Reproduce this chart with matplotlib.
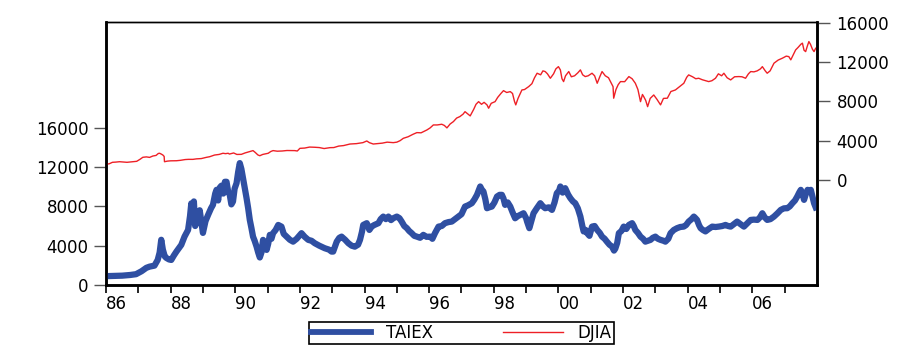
import matplotlib
matplotlib.use('Agg')
import matplotlib.pyplot as plt
from matplotlib.lines import Line2D

# TAIEX (left axis) as (decimal year, index level)
taiex_t = [1986.00, 1986.25, 1986.50, 1986.75, 1986.93, 1987.10, 1987.25, 1987.35, 1987.50, 1987.60,
           1987.66, 1987.71, 1987.76, 1987.82, 1987.87, 1987.95, 1988.02, 1988.10, 1988.18, 1988.33,
           1988.43, 1988.54, 1988.60, 1988.64, 1988.68, 1988.72, 1988.76, 1988.80, 1988.85, 1988.90,
           1988.96, 1989.00, 1989.08, 1989.16, 1989.25, 1989.31, 1989.38, 1989.42, 1989.47, 1989.52,
           1989.57, 1989.63, 1989.68, 1989.73, 1989.78, 1989.83, 1989.88, 1989.93, 1989.98, 1990.04,
           1990.09, 1990.14, 1990.19, 1990.24, 1990.30, 1990.35, 1990.40, 1990.45, 1990.50, 1990.55,
           1990.60, 1990.66, 1990.71, 1990.76, 1990.81, 1990.86, 1990.91, 1990.97, 1991.02, 1991.07,
           1991.12, 1991.17, 1991.25, 1991.33, 1991.43, 1991.50, 1991.59, 1991.69, 1991.79, 1991.90,
           1992.05, 1992.15, 1992.26, 1992.36, 1992.46, 1992.60, 1992.77, 1992.90, 1992.98, 1993.03,
           1993.14, 1993.22, 1993.29, 1993.40, 1993.50, 1993.60, 1993.70, 1993.80, 1993.86, 1993.92,
           1993.96, 1994.07, 1994.15, 1994.22, 1994.30, 1994.43, 1994.50, 1994.58, 1994.66, 1994.74,
           1994.82, 1994.89, 1995.00, 1995.08, 1995.15, 1995.23, 1995.31, 1995.38, 1995.46, 1995.54,
           1995.62, 1995.72, 1995.82, 1995.92, 1996.03, 1996.10, 1996.18, 1996.29, 1996.39, 1996.49,
           1996.60, 1996.70, 1996.80, 1996.90, 1997.00, 1997.11, 1997.20, 1997.32, 1997.40, 1997.48,
           1997.53, 1997.58, 1997.63, 1997.68, 1997.74, 1997.79, 1997.86, 1997.94, 1998.02, 1998.10,
           1998.18, 1998.25, 1998.30, 1998.35, 1998.43, 1998.51, 1998.58, 1998.66, 1998.74, 1998.82,
           1998.92, 1999.00, 1999.03, 1999.10, 1999.17, 1999.23, 1999.33, 1999.44, 1999.52, 1999.59,
           1999.70, 1999.80, 1999.88, 1999.95, 2000.02, 2000.06, 2000.13, 2000.21, 2000.30, 2000.37,
           2000.45, 2000.52, 2000.60, 2000.68, 2000.74, 2000.78, 2000.84, 2000.89, 2000.96, 2001.04,
           2001.12, 2001.20, 2001.28, 2001.35, 2001.43, 2001.50, 2001.58, 2001.66, 2001.72, 2001.76,
           2001.82, 2001.87, 2001.95, 2002.02, 2002.10, 2002.18, 2002.28, 2002.33, 2002.38, 2002.46,
           2002.54, 2002.62, 2002.69, 2002.77, 2002.85, 2002.92, 2003.00, 2003.08, 2003.16, 2003.25,
           2003.31, 2003.40, 2003.47, 2003.57, 2003.67, 2003.77, 2003.88, 2003.95, 2004.03, 2004.12,
           2004.19, 2004.24, 2004.29, 2004.35, 2004.40, 2004.47, 2004.55, 2004.65, 2004.76, 2004.86,
           2004.96, 2005.07, 2005.17, 2005.25, 2005.33, 2005.43, 2005.53, 2005.63, 2005.74, 2005.85,
           2005.95, 2006.05, 2006.16, 2006.24, 2006.31, 2006.38, 2006.46, 2006.56, 2006.67, 2006.78,
           2006.88, 2006.98, 2007.08, 2007.16, 2007.24, 2007.32, 2007.39, 2007.45, 2007.50, 2007.55,
           2007.60, 2007.66, 2007.71, 2007.76, 2007.81, 2007.86, 2007.91, 2007.96]
taiex_v = [900, 920, 950, 1020, 1100, 1400, 1750, 1870, 1970, 2550,
           3300, 4600, 3600, 2900, 2750, 2600, 2550, 3000, 3400, 4080,
           4920, 5600, 7000, 8300, 7000, 8500, 6000, 7000, 6300, 7600,
           6200, 5300, 6500, 7130, 7800, 8150, 9300, 9680, 8600, 9900,
           10100, 9300, 10500, 10500, 9500, 9170, 8200, 8490, 9800, 10360,
           11500, 12400, 11800, 10870, 9800, 8830, 7800, 6620, 5800, 4920,
           4500, 3900, 3300, 2800, 3300, 4590, 4300, 3570, 4200, 5100,
           4700, 5270, 5600, 6110, 5940, 5200, 4920, 4600, 4410, 4700,
           5270, 4900, 4590, 4500, 4250, 4000, 3740, 3600, 3400, 3400,
           4410, 4800, 4920, 4600, 4250, 4000, 3900, 4100, 4590, 5400,
           6110, 6290, 5600, 5940, 6100, 6290, 6700, 6960, 6700, 6960,
           6600, 6790, 6960, 6800, 6450, 6000, 5780, 5500, 5270, 5000,
           4920, 4800, 5100, 4900, 4920, 4700, 5270, 5940, 6000, 6290,
           6400, 6450, 6700, 6960, 7200, 7980, 8100, 8320, 8700, 9170,
           9600, 10020, 9700, 9510, 8700, 7810, 7900, 7980, 8400, 9000,
           9170, 9170, 8800, 8150, 8400, 7980, 7400, 6790, 7000, 7130,
           7300, 6800, 6450, 5780, 6600, 7300, 7800, 8320, 8000, 7810,
           7900, 7640, 8400, 9340, 9600, 10020, 9400, 9850, 9200, 8830,
           8500, 8320, 7800, 6960, 6000, 5450, 5600, 5270, 5000, 5940,
           6000, 5600, 5300, 4920, 4700, 4410, 4100, 3900, 3500, 3700,
           4300, 5270, 5500, 5940, 5700, 6110, 6290, 6000, 5600, 5300,
           4920, 4700, 4410, 4500, 4590, 4800, 4920, 4700, 4590, 4500,
           4410, 4700, 5270, 5600, 5780, 5900, 5940, 6100, 6450, 6700,
           6960, 6800, 6620, 6100, 5780, 5600, 5450, 5700, 5940, 5900,
           5940, 6000, 6110, 6000, 5940, 6200, 6450, 6200, 5940, 6300,
           6620, 6650, 6620, 6900, 7300, 6900, 6620, 6700, 6960, 7300,
           7640, 7800, 7810, 8000, 8320, 8600, 9000, 9400, 9680, 9300,
           8660, 9300, 9680, 9500, 9680, 9000, 8320, 7900]

# DJIA (right axis)
djia_t = [1986.00, 1986.10, 1986.20, 1986.30, 1986.42, 1986.55, 1986.65, 1986.75, 1986.83, 1986.95,
          1987.05, 1987.14, 1987.25, 1987.35, 1987.45, 1987.55, 1987.62, 1987.66, 1987.72, 1987.76,
          1987.80, 1987.81, 1987.90, 1988.00, 1988.18, 1988.30, 1988.45, 1988.55, 1988.69, 1988.80,
          1988.95, 1989.10, 1989.21, 1989.36, 1989.50, 1989.62, 1989.70, 1989.78, 1989.82, 1989.95,
          1990.05, 1990.19, 1990.30, 1990.45, 1990.55, 1990.62, 1990.70, 1990.76, 1990.85, 1991.02,
          1991.10, 1991.17, 1991.30, 1991.45, 1991.60, 1991.75, 1991.84, 1991.92, 1992.00, 1992.15,
          1992.30, 1992.46, 1992.60, 1992.75, 1992.93, 1993.05, 1993.20, 1993.35, 1993.55, 1993.75,
          1993.95, 1994.07, 1994.15, 1994.27, 1994.40, 1994.55, 1994.70, 1994.89, 1995.00, 1995.10,
          1995.20, 1995.35, 1995.50, 1995.62, 1995.75, 1995.93, 1996.03, 1996.13, 1996.25, 1996.39,
          1996.47, 1996.55, 1996.65, 1996.75, 1996.85, 1996.95, 1997.05, 1997.11, 1997.20, 1997.27,
          1997.38, 1997.45, 1997.53, 1997.62, 1997.70, 1997.79, 1997.84, 1997.92, 1998.04, 1998.12,
          1998.22, 1998.30, 1998.40, 1998.51, 1998.58, 1998.64, 1998.68, 1998.75, 1998.87, 1998.95,
          1999.08, 1999.18, 1999.26, 1999.34, 1999.45, 1999.52, 1999.59, 1999.66, 1999.75, 1999.85,
          1999.92, 2000.00, 2000.06, 2000.11, 2000.16, 2000.22, 2000.32, 2000.40, 2000.50, 2000.60,
          2000.68, 2000.75, 2000.83, 2000.92, 2001.04, 2001.12, 2001.20, 2001.28, 2001.35, 2001.45,
          2001.55, 2001.61, 2001.69, 2001.71, 2001.78, 2001.85, 2001.92, 2002.05, 2002.18, 2002.28,
          2002.38, 2002.46, 2002.54, 2002.60, 2002.64, 2002.70, 2002.76, 2002.84, 2002.95, 2003.05,
          2003.16, 2003.25, 2003.37, 2003.48, 2003.62, 2003.75, 2003.88, 2003.97, 2004.03, 2004.15,
          2004.25, 2004.34, 2004.45, 2004.55, 2004.65, 2004.75, 2004.86, 2004.95, 2005.05, 2005.12,
          2005.22, 2005.33, 2005.45, 2005.58, 2005.68, 2005.79, 2005.88, 2005.95, 2006.05, 2006.15,
          2006.25, 2006.31, 2006.40, 2006.46, 2006.55, 2006.67, 2006.80, 2006.93, 2007.05, 2007.13,
          2007.19, 2007.26, 2007.34, 2007.42, 2007.50, 2007.55, 2007.60, 2007.65, 2007.70, 2007.75,
          2007.80, 2007.86, 2007.91, 2007.96]
djia_v = [1600, 1650, 1800, 1820, 1860, 1830, 1800, 1830, 1860, 1900,
          2100, 2310, 2350, 2300, 2440, 2500, 2700, 2720, 2620, 2540,
          2400, 1860, 1920, 1950, 1960, 2000, 2080, 2100, 2100, 2150,
          2180, 2300, 2370, 2540, 2600, 2720, 2680, 2720, 2640, 2750,
          2600, 2610, 2750, 2900, 2990, 2800, 2550, 2470, 2600, 2720,
          2900, 2990, 2930, 2950, 3000, 3000, 2990, 2950, 3220, 3250,
          3350, 3330, 3300, 3200, 3290, 3300, 3450, 3500, 3660, 3700,
          3800, 3970, 3800, 3660, 3700, 3750, 3850, 3800, 3850, 4000,
          4240, 4400, 4650, 4820, 4800, 5090, 5300, 5600, 5600, 5670,
          5550, 5300, 5700, 5940, 6300, 6450, 6700, 6950, 6700, 6520,
          7200, 7700, 7970, 7700, 7900, 7640, 7300, 7800, 7970, 8400,
          8800, 9090, 8900, 8990, 8800, 8000, 7640, 8300, 9160, 9200,
          9500, 9800, 10400, 10860, 10700, 11100, 11030, 10800, 10350, 10800,
          11300, 11530, 11200, 10300, 10010, 10600, 11030, 10500, 10600, 10900,
          11200, 10700, 10520, 10600, 10860, 10600, 9840, 10500, 11030, 10600,
          10400, 10010, 9500, 8320, 9200, 9700, 10010, 10000, 10520, 10300,
          9840, 9200, 7970, 8700, 8480, 8100, 7460, 8300, 8650, 8200,
          7640, 8300, 8320, 9000, 9160, 9500, 9840, 10450, 10690, 10500,
          10300, 10350, 10200, 10100, 10010, 10100, 10350, 10800, 10600, 10860,
          10400, 10180, 10500, 10520, 10500, 10350, 10800, 11030, 11000, 11100,
          11300, 11530, 11100, 10860, 11100, 11880, 12200, 12390, 12600, 12550,
          12220, 12700, 13230, 13500, 13800, 13920, 13200, 13060, 13600, 14080,
          13800, 13300, 13060, 13400]

years = list(range(1986, 2008))
year_labels = ['%02d' % (y % 100) if y % 2 == 0 else '' for y in years]
left_ticks = [0, 4000, 8000, 12000, 16000]
right_ticks = [0, 4000, 8000, 12000, 16000]

blue = '#2f4fa2'
red = '#ee2026'

plt.rcParams['font.family'] = ['DejaVu Sans']
plt.rcParams['font.size'] = 12

fig = plt.figure(figsize=(9.2, 3.45), dpi=100)
ax = fig.add_axes([0.1152, 0.1739, 0.7728, 0.7623])
ax2 = ax.twinx()

ax.plot(taiex_t, taiex_v, color=blue, linewidth=4.5, solid_joinstyle='round', zorder=3)
ax2.plot(djia_t, djia_v, color=red, linewidth=1.0)

ax.set_xlim(1986, 2008)
ax.set_ylim(0, 26750)
ax2.set_ylim(-10680, 16070)

ax.set_xticks(years)
ax.set_xticklabels(year_labels, ha='left')
ax.set_yticks(left_ticks)
ax.set_yticklabels([str(v) for v in left_ticks])
ax2.set_yticks(right_ticks)
ax2.set_yticklabels([str(v) for v in right_ticks])

ax.tick_params(axis='x', direction='out', length=6, width=1.2, pad=1.5)
ax.tick_params(axis='y', direction='out', length=8.6, width=1.0, color='#555555', pad=4)
ax2.tick_params(axis='y', direction='out', length=9, width=1.0, color='#555555', pad=5)

for a in (ax, ax2):
    for side in ['left', 'right', 'bottom']:
        a.spines[side].set_linewidth(1.8)
    a.spines['top'].set_linewidth(1.0)

# legend box under the axes (bottom of it runs off the figure)
handles = [Line2D([], [], color=blue, linewidth=4.2),
           Line2D([], [], color=red, linewidth=1.0)]
leg = fig.legend(handles, ['TAIEX', 'DJIA'], loc='upper center',
                 bbox_to_anchor=(461 / 920, 1 - 322 / 345), ncol=2,
                 frameon=True, fancybox=False, edgecolor='black', framealpha=1,
                 handlelength=3.6, handletextpad=0.9, columnspacing=4.2,
                 borderaxespad=0, borderpad=0.12)
leg.get_frame().set_linewidth(1.2)

fig.savefig('out.png', dpi=100)
